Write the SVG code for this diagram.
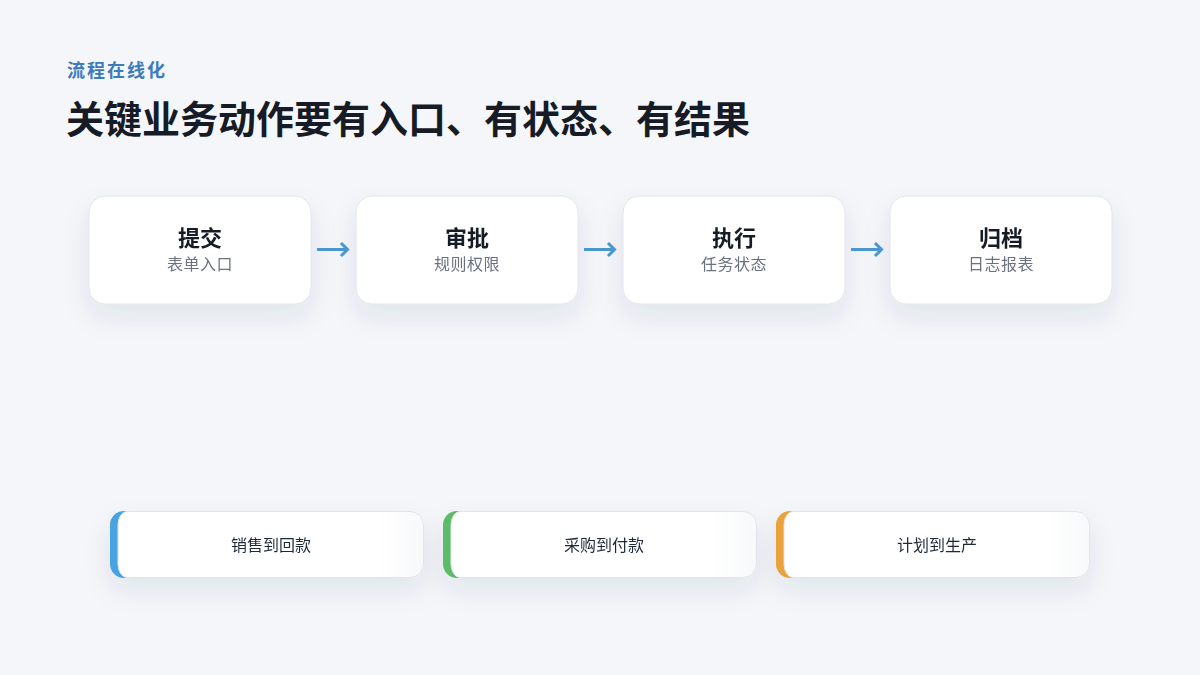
<svg xmlns="http://www.w3.org/2000/svg" width="1200" height="675" viewBox="0 0 1200 675">
<defs>
<filter id="sh" x="-20%" y="-30%" width="140%" height="190%">
<feDropShadow dx="0" dy="12" stdDeviation="13" flood-color="#1e2a4a" flood-opacity="0.09"/>
</filter>
<linearGradient id="cardg" x1="0" y1="0" x2="1" y2="0">
<stop offset="0.85" stop-color="#ffffff"/>
<stop offset="1" stop-color="#f8f9fb"/>
</linearGradient>
<style>
.cjk{font-family:"Noto Sans CJK SC","Noto Sans",sans-serif}
.card{fill:#ffffff;stroke:#e1e4ea;stroke-width:1}
.t{font-size:22px;font-weight:700;fill:#161b26;text-anchor:middle}
.s{font-size:16px;fill:#6b7280;text-anchor:middle;letter-spacing:0.5px}
.b{font-size:16px;fill:#1f2937;text-anchor:middle}
.inner{fill:url(#cardg);stroke:#e1e4ea;stroke-width:1}
.arr{fill:none;stroke:#4a97d0;stroke-width:3;stroke-linecap:butt;stroke-linejoin:miter}
</style>
</defs>
<rect width="1200" height="675" fill="#f5f6fa"/>
<text class="cjk" x="67" y="77" font-size="18" font-weight="700" fill="#3b7bbd" letter-spacing="2">流程在线化</text>
<text class="cjk" x="66" y="133" font-size="38" font-weight="700" fill="#161b26">关键业务动作要有入口、有状态、有结果</text>

<g id="node-submit" filter="url(#sh)">
<rect class="card" x="89" y="196" width="222" height="108" rx="16"/>
<text class="cjk t" x="200" y="246">提交</text>
<text class="cjk s" x="200" y="270">表单入口</text>
</g>
<g id="node-approve" filter="url(#sh)">
<rect class="card" x="356" y="196" width="222" height="108" rx="16"/>
<text class="cjk t" x="467" y="246">审批</text>
<text class="cjk s" x="467" y="270">规则权限</text>
</g>
<g id="node-execute" filter="url(#sh)">
<rect class="card" x="623" y="196" width="222" height="108" rx="16"/>
<text class="cjk t" x="734" y="246">执行</text>
<text class="cjk s" x="734" y="270">任务状态</text>
</g>
<g id="node-archive" filter="url(#sh)">
<rect class="card" x="890" y="196" width="222" height="108" rx="16"/>
<text class="cjk t" x="1001" y="246">归档</text>
<text class="cjk s" x="1001" y="270">日志报表</text>
</g>

<g id="connectors">
<path class="arr" d="M317 249.5H347M341 243L347.5 249.5L341 256"/>
<path class="arr" d="M584 249.5H614M608 243L614.5 249.5L608 256"/>
<path class="arr" d="M851 249.5H881M875 243L881.5 249.5L875 256"/>
</g>

<g id="flow-sales" filter="url(#sh)">
<path d="M124 511H150V578H124A14 14 0 0 1 110 564V525A14 14 0 0 1 124 511Z" fill="#4aa3e0"/>
<path class="inner" d="M127 511.5H410A13.5 13.5 0 0 1 423.5 525V564A13.5 13.5 0 0 1 410 577.5H127A9 13.5 0 0 1 118 564V525A9 13.5 0 0 1 127 511.5Z"/>
<text class="cjk b" x="271" y="551">销售到回款</text>
</g>
<g id="flow-purchase" filter="url(#sh)">
<path d="M457 511H483V578H457A14 14 0 0 1 443 564V525A14 14 0 0 1 457 511Z" fill="#5cbd68"/>
<path class="inner" d="M460 511.5H743A13.5 13.5 0 0 1 756.5 525V564A13.5 13.5 0 0 1 743 577.5H460A9 13.5 0 0 1 451 564V525A9 13.5 0 0 1 460 511.5Z"/>
<text class="cjk b" x="604" y="551">采购到付款</text>
</g>
<g id="flow-plan" filter="url(#sh)">
<path d="M790 511H816V578H790A14 14 0 0 1 776 564V525A14 14 0 0 1 790 511Z" fill="#eba23c"/>
<path class="inner" d="M793 511.5H1076A13.5 13.5 0 0 1 1089.5 525V564A13.5 13.5 0 0 1 1076 577.5H793A9 13.5 0 0 1 784 564V525A9 13.5 0 0 1 793 511.5Z"/>
<text class="cjk b" x="937" y="551">计划到生产</text>
</g>
</svg>
